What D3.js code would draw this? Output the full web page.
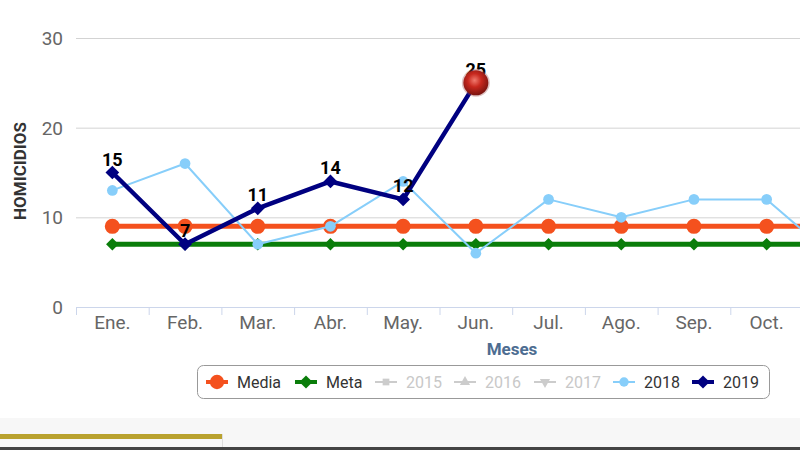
<!DOCTYPE html>
<html><head><meta charset="utf-8">
<script src="https://cdn.jsdelivr.net/npm/d3@7"></script>
<style>
html,body{margin:0;padding:0;background:#fff;}
svg{display:block;font-family:Roboto,"Noto Sans",sans-serif;}
</style></head>
<body>
<svg id="chart" width="800" height="450"></svg>
<script>
const months = ["Ene.","Feb.","Mar.","Abr.","May.","Jun.","Jul.","Ago.","Sep.","Oct.","Nov.","Dic."];
const media = [9,9,9,9,9,9,9,9,9,9,9,9];
const meta = [7,7,7,7,7,7,7,7,7,7,7,7];
const s2018 = [13,16,7,9,14,6,12,10,12,12,5];
const s2019 = [15,7,11,14,12,25];
const yTicks = [0,10,20,30];
const legendItems = [
  {name:"Media", color:"#f4511e", shape:"circle", active:true},
  {name:"Meta", color:"#0a7d0a", shape:"diamond", active:true},
  {name:"2015", color:"#cccccc", shape:"square", active:false},
  {name:"2016", color:"#cccccc", shape:"triangle", active:false},
  {name:"2017", color:"#cccccc", shape:"triangle-down", active:false},
  {name:"2018", color:"#87cefa", shape:"circle", active:true},
  {name:"2019", color:"#000080", shape:"diamond", active:true}
];

const W = 800, H = 450;
const svg = d3.select("#chart");
const plotL = 76, band = 72.7;
const x = d3.scaleBand().domain(months).range([plotL, plotL + band*months.length]).padding(0);
const y = d3.scaleLinear().domain([0,30]).range([307,38]);
const cx = m => x(m) + x.bandwidth()/2;

// bottom decoration
svg.append("rect").attr("x",0).attr("y",418).attr("width",W).attr("height",32).attr("fill","#f7f7f7");
svg.append("rect").attr("x",0).attr("y",434).attr("width",222).attr("height",5).attr("fill","#b9a22f");
svg.append("line").attr("x1",222.5).attr("x2",222.5).attr("y1",434).attr("y2",447).attr("stroke","#ddd");
svg.append("rect").attr("x",0).attr("y",447).attr("width",W).attr("height",3).attr("fill","#444");

const defs = svg.append("defs");
defs.append("clipPath").attr("id","clip")
  .append("rect").attr("x",0).attr("y",0).attr("width",W).attr("height",H);
const g = svg.append("g");
g.selectAll(".grid").data(yTicks.filter(t=>t>0)).join("line")
  .attr("x1",plotL).attr("x2",W).attr("y1",d=>y(d)+0.5).attr("y2",d=>y(d)+0.5)
  .attr("stroke","#d3d3d3").attr("stroke-width",1);
// y labels
g.selectAll(".yl").data(yTicks).join("text")
  .attr("x",63).attr("y",d=>y(d)+7).attr("text-anchor","end")
  .attr("font-size",19).attr("fill","#666").text(d=>d);

// x axis
const xg = g.append("g").attr("transform","translate(0,307)");
xg.append("line").attr("x1",plotL).attr("x2",W).attr("y1",0.5).attr("y2",0.5).attr("stroke","#ccd6eb");
const boundaries = months.map(m=>x(m)).filter(v=>v<W);
xg.selectAll(".tk").data(boundaries).join("line")
  .attr("x1",d=>d+0.5).attr("x2",d=>d+0.5).attr("y1",0).attr("y2",8).attr("stroke","#ccd6eb");
xg.selectAll(".xl").data(months.filter(m=>cx(m)+20<W)).join("text")
  .attr("x",d=>cx(d)).attr("y",22).attr("text-anchor","middle")
  .attr("font-size",19).attr("fill","#666").text(d=>d);

// axis titles
g.append("text").attr("transform","translate(26,171) rotate(-90)").attr("text-anchor","middle")
  .attr("font-size",17).attr("font-weight","bold").attr("fill","#333").text("HOMICIDIOS");
g.append("text").attr("x",512).attr("y",355).attr("text-anchor","middle")
  .attr("font-size",17).attr("font-weight","bold").attr("fill","#4d6d91").text("Meses");

// series
const plot = g.append("g").attr("clip-path","url(#clip)");
function series(vals, color, width, shape, size){
  const pts = vals.map((v,i)=>[cx(months[i]), y(v)]);
  const sg = plot.append("g");
  sg.append("path").attr("d",d3.line()(pts)).attr("fill","none").attr("stroke",color)
    .attr("stroke-width",width).attr("stroke-linejoin","round");
  const sym = d3.symbol().type(shape==="diamond"?d3.symbolDiamond2:d3.symbolCircle).size(size);
  sg.selectAll("path.m").data(pts).join("path").attr("class","m")
    .attr("transform",d=>`translate(${d[0]},${d[1]})`).attr("d",sym).attr("fill",color);
  return pts;
}
series(media,"#f4511e",5,"circle",180);
series(meta,"#0a7d0a",5,"diamond",100);
series(s2018,"#87cefa",2,"circle",90);
const p19 = series(s2019,"#000080",4.5,"diamond",120);

// labels for 2019
plot.selectAll(".dl").data(s2019).join("text")
  .attr("x",(d,i)=>p19[i][0]).attr("y",(d,i)=>p19[i][1]-7)
  .attr("text-anchor","middle").attr("font-size",18).attr("font-weight","bold")
  .attr("fill","#000").text(d=>d);

// highlighted point (last 2019)
const rg = defs.append("radialGradient").attr("id","rg").attr("cx","45%").attr("cy","40%").attr("r","60%");
rg.append("stop").attr("offset","0%").attr("stop-color","#f07a6e");
rg.append("stop").attr("offset","45%").attr("stop-color","#c8281e");
rg.append("stop").attr("offset","100%").attr("stop-color","#7a1410");
const last = p19[p19.length-1];
plot.append("circle").attr("cx",last[0]).attr("cy",last[1]).attr("r",14).attr("fill","#a05050").attr("opacity",0.35);
plot.append("circle").attr("cx",last[0]).attr("cy",last[1]).attr("r",12.5).attr("fill","url(#rg)");

// legend
const lg = svg.append("g");
lg.append("rect").attr("x",197.5).attr("y",365.5).attr("width",572).attr("height",33).attr("rx",6)
  .attr("fill","#fff").attr("stroke","#999");
const lx = [217,306,386,465,545,624,703];
const shapeMap = {circle:d3.symbolCircle, diamond:d3.symbolDiamond2, square:d3.symbolSquare, triangle:d3.symbolTriangle, "triangle-down":d3.symbolTriangle};
legendItems.forEach((it,i)=>{
  const gi = lg.append("g").attr("transform",`translate(${lx[i]},382)`);
  gi.append("line").attr("x1",-11).attr("x2",11).attr("stroke",it.color)
    .attr("stroke-width",it.active?(it.name==="2018"?2:4):2);
  const sz = it.shape==="circle" ? (it.name==="Media"?160:70) : (it.shape==="diamond"?110:45);
  gi.append("path").attr("d",d3.symbol().type(shapeMap[it.shape]).size(sz))
    .attr("transform",it.shape==="triangle-down"?"rotate(180)":null).attr("fill",it.color);
  gi.append("text").attr("x",20).attr("y",6).attr("font-size",16)
    .attr("fill",it.active?"#333":"#c8c8c8").text(it.name);
});
</script>
</body></html>
